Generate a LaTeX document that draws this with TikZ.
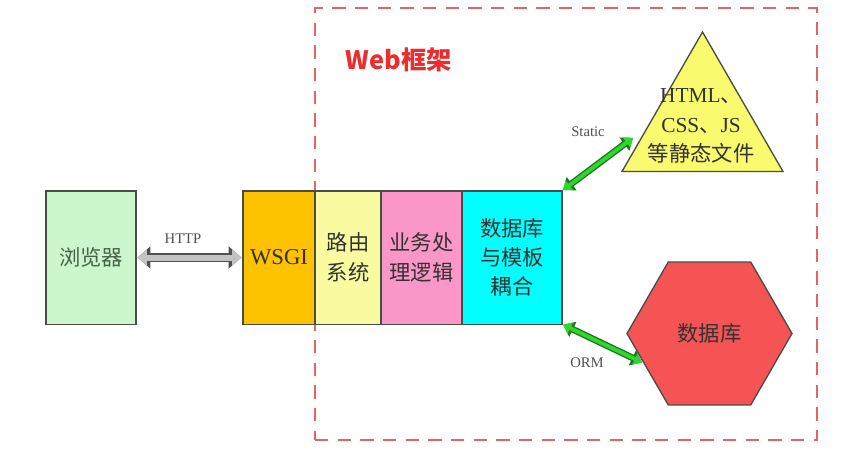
\documentclass[tikz,border=0pt]{standalone}
\usepackage{fontspec}
\setmainfont{Liberation Serif}
\newfontfamily\cjk{Noto Sans CJK SC}
\usepackage{xcolor}
\usetikzlibrary{shapes,positioning,calc,arrows.meta}

\definecolor{boxline}{RGB}{70,78,70}
\definecolor{txtgray}{RGB}{50,50,50}
\definecolor{browserfill}{RGB}{204,246,204}
\definecolor{wsgifill}{RGB}{255,194,0}
\definecolor{routefill}{RGB}{250,250,160}
\definecolor{logicfill}{RGB}{250,150,200}
\definecolor{couplefill}{RGB}{0,255,255}
\definecolor{trifill}{RGB}{250,250,110}
\definecolor{dbfill}{RGB}{246,84,84}
\definecolor{framered}{RGB}{228,100,100}
\definecolor{titlered}{RGB}{235,45,45}
\definecolor{arrowgray}{RGB}{195,195,195}
\definecolor{arrowdark}{RGB}{80,80,80}
\definecolor{linkgreen}{RGB}{45,215,45}
\definecolor{linkdark}{RGB}{30,115,30}

\tikzset{
    box/.style={draw=boxline, line width=1pt, minimum height=100pt, inner sep=0pt,
        outer sep=0pt, align=center, text=txtgray, font=\cjk\fontsize{16}{22}\selectfont},
    webframe/.style={draw=framered, line width=1.2pt, dash pattern=on 10pt off 7pt},
    smalllabel/.style={font=\fontsize{11}{13}\selectfont, text=arrowdark},
    httparrow/.style={line width=4.5pt, draw=arrowgray, shorten <=1.2pt, shorten >=1.2pt,
        {Triangle[length=7pt,width=12pt]}-{Triangle[length=7pt,width=12pt]},
        preaction={draw=arrowdark, line width=7pt,
            {Triangle[length=9.5pt,width=16pt]}-{Triangle[length=9.5pt,width=16pt]}}},
    linkarrow/.style={line width=3pt, draw=linkgreen, shorten <=1pt, shorten >=1pt,
        {Triangle[length=6pt,width=9pt]}-{Triangle[length=6pt,width=9pt]},
        preaction={draw=linkdark, line width=5pt,
            {Triangle[length=8pt,width=12pt]}-{Triangle[length=8pt,width=12pt]}}}
}

\begin{document}
\begin{tikzpicture}[x=0.75pt,y=-0.75pt]
    \fill[white] (0,0) rectangle (843,460);
    \useasboundingbox (0,0) rectangle (843,460);

    % Web framework frame
    \node[webframe, minimum width=376.5pt, minimum height=324pt] (web) at (566,224) {};
    \node[font=\cjk\bfseries\fontsize{19}{22}\selectfont, text=titlered] (title) at (399,60) {Web框架};

    % Browser and the chain of layers
    \node[box, fill=browserfill, minimum width=67.5pt, text={rgb,255:red,70;green,100;blue,70}] (browser) at (91,257.5) {浏览器};
    \node[box, fill=wsgifill, minimum width=54pt, font=\fontsize{17}{20}\selectfont] (wsgi) at (279,257.5) {WSGI};
    \node[box, fill=routefill, minimum width=49.5pt, right=0pt of wsgi] (route) {路由\\系统};
    \node[box, fill=logicfill, minimum width=60.75pt, right=0pt of route] (logic) {业务处\\理逻辑};
    \node[box, fill=couplefill, minimum width=75pt, right=0pt of logic] (couple) {数据库\\与模板\\耦合};

    % Static files
    \node[regular polygon, regular polygon sides=3, minimum size=139.4pt, inner sep=0pt,
        draw=boxline, line width=1pt, fill=trifill] (static) at (702.5,125) {};
    \node[align=center, text=txtgray, font=\fontsize{16}{22}\selectfont] (statictxt) at (701,126)
        {HTML{\cjk 、}\\CSS{\cjk 、}JS\\{\cjk 等静态文件}};
    \coordinate (staticend) at (634,137);

    % Database
    \node[regular polygon, regular polygon sides=6, minimum size=123.75pt, inner sep=0pt,
        draw=boxline, line width=1pt, fill=dbfill, text=txtgray,
        font=\cjk\fontsize{16}{22}\selectfont] (db) at (709.5,333.5) {数据库};

    % Connectors
    \draw[httparrow] (browser) -- (wsgi);
    \node[smalllabel] (http) at (183,239) {HTTP};
    \draw[linkarrow] (couple.north east) -- (staticend);
    \node[smalllabel] (staticlbl) at (588,132) {Static};
    \draw[linkarrow] (couple.south east) -- (db.204);
    \node[smalllabel] (orm) at (587,363) {ORM};
\end{tikzpicture}
\end{document}
